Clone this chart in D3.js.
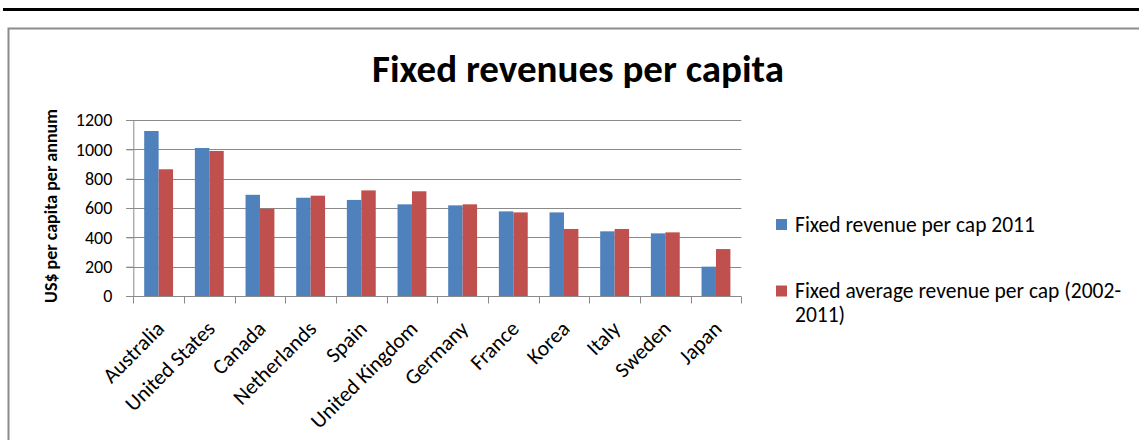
<!DOCTYPE html>
<html>
<head>
<meta charset="utf-8">
<script src="https://cdn.jsdelivr.net/npm/d3@7"></script>
<style>
  html, body { margin: 0; padding: 0; background: #fff; }
  svg { display: block; font-family: Carlito, Lato, "Open Sans", sans-serif; }
</style>
</head>
<body>
<svg id="chart" width="1139" height="440"></svg>
<script>
// Countries along the x axis
const countries = ["Australia", "United States", "Canada", "Netherlands", "Spain",
  "United Kingdom", "Germany", "France", "Korea", "Italy", "Sweden", "Japan"];
// Fixed revenue per capita in 2011 (US$)
const revenue2011 = [1125, 1009, 690, 670, 655, 625, 618, 577, 570, 441, 427, 200];
// Fixed average revenue per capita 2002-2011 (US$)
const revenueAvg = [864, 989, 595, 684, 720, 714, 625, 570, 457, 457, 434, 320];
// Series names and y ticks
const seriesNames = ["Fixed revenue per cap 2011", "Fixed average revenue per cap (2002-2011)"];
const yTicks = [0, 200, 400, 600, 800, 1000, 1200];

const colors = ["#4f81bd", "#c0504d"];
const axisGrey = "#8a8a8a";
const svg = d3.select("#chart");

// Page rule and chart frame
svg.append("line").attr("x1", 3).attr("x2", 1139).attr("y1", 9.5).attr("y2", 9.5)
  .attr("stroke", "#000").attr("stroke-width", 3);
svg.append("rect").attr("x", 8.5).attr("y", 28.5).attr("width", 1150).attr("height", 430)
  .attr("fill", "#fff").attr("stroke", "#8c8c8c").attr("stroke-width", 2);

const plot = { left: 133.3, right: 741.3, top: 120, bottom: 296 };

const x = d3.scaleBand().domain(countries).range([plot.left, plot.right]).paddingInner(0).paddingOuter(0);
const y = d3.scaleLinear().domain([0, 1200]).range([plot.bottom, plot.top]);

// Gridlines
svg.append("g").selectAll("line").data(yTicks.filter(d => d > 0)).join("line")
  .attr("x1", plot.left - 7).attr("x2", plot.right)
  .attr("y1", d => Math.round(y(d)) + 0.5).attr("y2", d => Math.round(y(d)) + 0.5)
  .attr("stroke", axisGrey).attr("stroke-width", 1);

// Bars: two series side by side in each category
const groupW = x.bandwidth() * 0.57;
const barW = groupW / 2;
const series = [revenue2011, revenueAvg];
series.forEach((vals, si) => {
  svg.append("g").selectAll("rect").data(countries).join("rect")
    .attr("x", (c) => x(c) + (x.bandwidth() - groupW) / 2 + si * barW)
    .attr("y", (c, i) => y(vals[i]))
    .attr("width", barW)
    .attr("height", (c, i) => y(0) - y(vals[i]))
    .attr("fill", colors[si]);
});

// Y axis
const yAxis = d3.axisLeft(y).tickValues(yTicks).tickFormat(d3.format("d")).tickSize(7).tickPadding(14);
const gy = svg.append("g").attr("transform", `translate(${plot.left},0)`).call(yAxis);
gy.select(".domain").attr("stroke", axisGrey);
gy.selectAll(".tick line").attr("stroke", axisGrey);
gy.selectAll(".tick text").attr("font-size", 18).attr("fill", "#000")
  .attr("font-family", "Carlito, Lato, 'Open Sans', sans-serif");

// X axis with ticks on category boundaries
const gx = svg.append("g").attr("transform", `translate(0,${plot.bottom + 0.5})`);
gx.append("line").attr("x1", plot.left - 7).attr("x2", plot.right).attr("stroke", axisGrey);
const bounds = countries.map(c => x(c)).concat([plot.right]);
gx.selectAll("line.tk").data(bounds).join("line").attr("class", "tk")
  .attr("x1", d => Math.round(d) + 0.5).attr("x2", d => Math.round(d) + 0.5)
  .attr("y1", 0).attr("y2", 7).attr("stroke", axisGrey);

// Rotated category labels
svg.append("g").selectAll("text").data(countries).join("text")
  .attr("transform", c => `translate(${x(c) + x.bandwidth() / 2 + 7},330) rotate(-45)`)
  .attr("text-anchor", "end")
  .attr("font-size", 21.5).attr("fill", "#000").text(c => c);

// Title
svg.append("text").attr("x", 578).attr("y", 82).attr("text-anchor", "middle")
  .attr("font-size", 39).attr("font-weight", "bold").attr("fill", "#000")
  .text("Fixed revenues per capita");

// Y axis title
svg.append("text").attr("transform", "translate(57,206) rotate(-90)")
  .attr("text-anchor", "middle").attr("font-size", 18).attr("font-weight", "bold")
  .attr("fill", "#000").text("US$ per capita per annum");

// Legend
const legend = svg.append("g");
const legendRows = [[seriesNames[0]], ["Fixed average revenue per cap (2002-", "2011)"]];
const legendBase = [231.5, 298];
legendRows.forEach((lines, i) => {
  legend.append("rect").attr("x", 776).attr("y", legendBase[i] - 12.5).attr("width", 11).attr("height", 11)
    .attr("fill", colors[i]);
  const t = legend.append("text").attr("x", 795).attr("y", legendBase[i])
    .attr("font-size", 21.5).attr("fill", "#000");
  lines.forEach((ln, j) => {
    t.append("tspan").attr("x", 795).attr("dy", j === 0 ? 0 : 24).text(ln);
  });
});
</script>
</body>
</html>
